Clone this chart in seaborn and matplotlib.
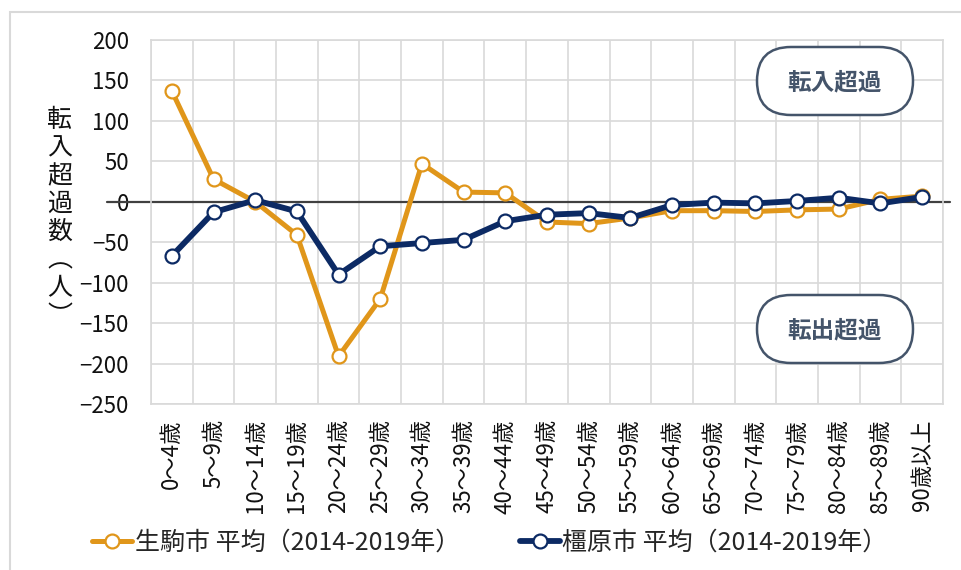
import numpy as np
import pandas as pd
import matplotlib.pyplot as plt
import seaborn as sns
from matplotlib.patches import FancyBboxPatch, Rectangle

# data
ages = ["0～4歳", "5～9歳", "10～14歳", "15～19歳", "20～24歳", "25～29歳",
        "30～34歳", "35～39歳", "40～44歳", "45～49歳", "50～54歳", "55～59歳",
        "60～64歳", "65～69歳", "70～74歳", "75～79歳", "80～84歳", "85～89歳",
        "90歳以上"]
ikoma = [137, 28, 0, -41, -191, -120, 47, 12, 11, -25, -27, -20,
         -11, -11, -12, -10, -9, 3, 7]
kashihara = [-67, -13, 2, -12, -90, -55, -51, -47, -24, -16, -14, -20,
             -4, -1, -2, 1, 5, -2, 6]
series_names = ["生駒市 平均（2014-2019年）", "橿原市 平均（2014-2019年）"]
colors = ["#E0961A", "#0C2A64"]
y_ticks = list(range(-250, 201, 50))

sns.set_theme(style="whitegrid")
plt.rcParams["font.family"] = ["Noto Sans CJK JP", "DejaVu Sans"]

fig = plt.figure(figsize=(9.61, 5.70), dpi=100)
ax = fig.add_axes([151 / 961, 166 / 570, 792 / 961, 364 / 570])

df = pd.DataFrame({"age": ages * 2,
                   "value": ikoma + kashihara,
                   "city": [series_names[0]] * len(ages) + [series_names[1]] * len(ages)})

for name, col, lw in zip(series_names, colors, [3.6, 4.2]):
    sns.lineplot(data=df[df["city"] == name], x="age", y="value", ax=ax,
                 color=col, linewidth=lw, marker="o", markersize=10,
                 markerfacecolor="white", markeredgecolor=col,
                 markeredgewidth=1.6, label=name, sort=False)

# axes styling
ax.set_xlim(-0.5, len(ages) - 0.5)
ax.set_ylim(-250, 200)
ax.set_yticks(y_ticks)
ax.set_yticklabels([str(v).replace("-", "−") for v in y_ticks])
ax.set_xticks(range(len(ages)))
ax.set_xticklabels(ages, rotation=90)
ax.set_xticks(np.arange(-0.5, len(ages), 1), minor=True)
ax.grid(False)
ax.grid(True, which="minor", axis="x", color="#D9D9D9", linewidth=1.2)
ax.grid(True, which="major", axis="y", color="#D9D9D9", linewidth=1.2)
ax.tick_params(axis="y", labelsize=16, pad=16, length=0, colors="#111111")
ax.tick_params(axis="x", labelsize=16, pad=11, length=0, colors="#111111")
ax.tick_params(which="minor", length=0)
for s in ax.spines.values():
    s.set_color("#D9D9D9")
    s.set_linewidth(1.2)
ax.set_xlabel("")
ax.set_ylabel("")

# zero line reaching across the tick labels
ax.plot([-0.055, 1.009], [0, 0], color="#404040", linewidth=1.6,
        transform=ax.get_yaxis_transform(), clip_on=False, zorder=1.5)

# vertical y label
fig.text(60 / 961, 1 - 218 / 570, "\n".join("転入超過数︵人︶"), ha="center",
         va="center", fontsize=18, linespacing=1.1, color="#111111")

# pill boxes
for label, ytop in [("転入超過", 47), ("転出超過", 295)]:
    h = 0.68
    box = FancyBboxPatch((7.57, (570 - ytop) / 100 - h), 1.56, h,
                         boxstyle="round,pad=0,rounding_size=0.34",
                         transform=fig.dpi_scale_trans, facecolor="white",
                         edgecolor="#44546A", linewidth=1.8, zorder=5)
    fig.patches.append(box)
    fig.text(835 / 961, 1 - (ytop + 35) / 570, label, ha="center", va="center",
             fontsize=17, color="#44546A", fontweight="bold", zorder=6)

# legend below
ax.legend(loc="center", bbox_to_anchor=(490 / 961, 1 - 543 / 570),
          bbox_transform=fig.transFigure, ncol=2, frameon=False,
          fontsize=18, handlelength=1.6, handletextpad=0.1, columnspacing=2.4)

# outer frame
fig.patches.append(Rectangle((10 / 961, -0.1), 1.0, (570 - 12) / 570 + 0.1,
                             transform=fig.transFigure, facecolor="none",
                             edgecolor="#D9D9D9", linewidth=1.5, clip_on=False))

fig.savefig("out.png", dpi=100, facecolor="white")
